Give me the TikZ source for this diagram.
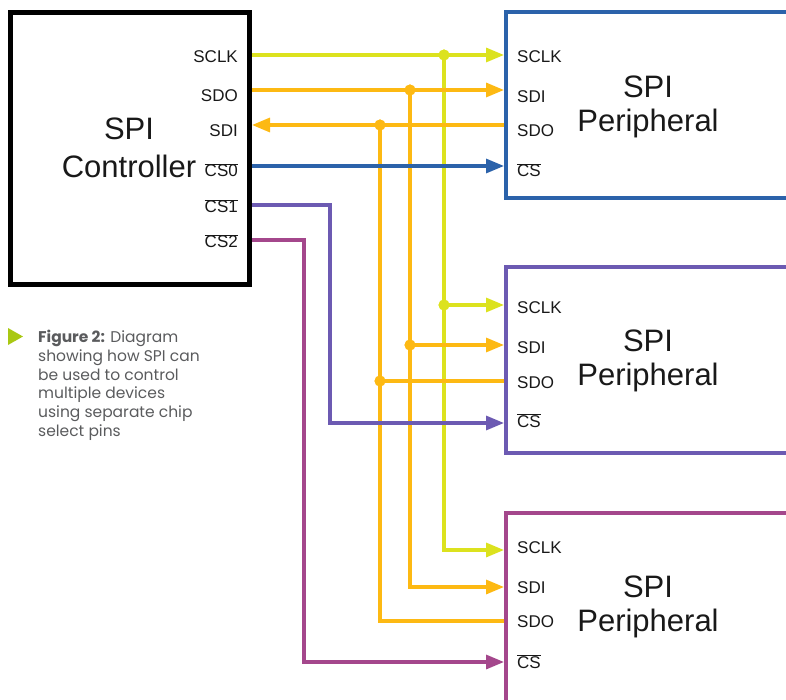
\documentclass[tikz,border=0pt]{standalone}
\usepackage{fontspec}
\setmainfont{Liberation Sans}
\newfontfamily\capfont{Poppins}
\usepackage{xcolor}
\usepackage{tikz}
\usetikzlibrary{arrows.meta, positioning, calc}

\definecolor{sclkcol}{HTML}{DCE21E}
\definecolor{datacol}{HTML}{FDB913}
\definecolor{p1col}{HTML}{2B62AA}
\definecolor{p2col}{HTML}{6C5AB2}
\definecolor{p3col}{HTML}{A4478C}
\definecolor{capgreen}{HTML}{A9C813}
\definecolor{capgray}{HTML}{5A5B5D}

\begin{document}
\begin{tikzpicture}[x=1pt, y=-1pt,
  chip/.style={draw, line width=4pt, anchor=north west, inner sep=0pt},
  pin/.style={font=\fontsize{17}{19}\selectfont, text=black!90, inner sep=0pt},
  big/.style={font=\fontsize{31}{36}\selectfont, text=black!90, align=center, inner sep=0pt},
  wire/.style={line width=3.2pt},
  arr/.style={-{Triangle[length=18pt, width=14pt]}},
  dot/.style={circle, inner sep=0pt, minimum size=11pt}
]
  \useasboundingbox (0,0) rectangle (786,700);
  \clip (0,0) rectangle (786,700);

  % Controller
  \node[chip, line width=5pt, minimum width=239pt, minimum height=272pt] (ctrl) at (8,10) {};
  \node[big, font=\fontsize{31}{38}\selectfont] (ctrl-name) at (129,148) {SPI\\Controller};
  \node[pin, anchor=base east] (l-sclk) at (238,63) {SCLK};
  \node[pin, anchor=base east] (l-sdo) at (238,102) {SDO};
  \node[pin, anchor=base east] (l-sdi) at (238,137) {SDI};
  \node[pin, anchor=base east] (l-cs0) at (238,177) {$\overline{\hbox{CS0}}$};
  \node[pin, anchor=base east] (l-cs1) at (238,213) {$\overline{\hbox{CS1}}$};
  \node[pin, anchor=base east] (l-cs2) at (238,248) {$\overline{\hbox{CS2}}$};

  % Peripherals
  \node[chip, draw=p1col, minimum width=320pt, minimum height=186pt] (p1) at (504,10) {};
  \node[chip, draw=p2col, minimum width=320pt, minimum height=186pt] (p2) at (504,265) {};
  \node[chip, draw=p3col, minimum width=320pt, minimum height=250pt] (p3) at (504,511) {};
  \node[big, font=\fontsize{31}{34}\selectfont] (p1-name) at (648,107) {SPI\\Peripheral};
  \node[big, font=\fontsize{31}{34}\selectfont] (p2-name) at (648,361) {SPI\\Peripheral};
  \node[big, font=\fontsize{31}{34}\selectfont] (p3-name) at (648,607) {SPI\\Peripheral};

  \node[pin, anchor=base west] (p1-l-sclk) at (517,63) {SCLK};
  \node[pin, anchor=base west] (p1-l-sdi) at (517,103) {SDI};
  \node[pin, anchor=base west] (p1-l-sdo) at (517,137) {SDO};
  \node[pin, anchor=base west] (p1-l-cs) at (517,177) {$\overline{\hbox{CS}}$};
  \node[pin, anchor=base west] (p2-l-sclk) at (517,313) {SCLK};
  \node[pin, anchor=base west] (p2-l-sdi) at (517,353) {SDI};
  \node[pin, anchor=base west] (p2-l-sdo) at (517,388) {SDO};
  \node[pin, anchor=base west] (p2-l-cs) at (517,427) {$\overline{\hbox{CS}}$};
  \node[pin, anchor=base west] (p3-l-sclk) at (517,553) {SCLK};
  \node[pin, anchor=base west] (p3-l-sdi) at (517,593) {SDI};
  \node[pin, anchor=base west] (p3-l-sdo) at (517,627) {SDO};
  \node[pin, anchor=base west] (p3-l-cs) at (517,668) {$\overline{\hbox{CS}}$};

  % Pin points
  \coordinate (c-sclk) at (ctrl.east |- 0,55);
  \coordinate (c-sdo) at (ctrl.east |- 0,90);
  \coordinate (c-sdi) at (ctrl.east |- 0,125);
  \coordinate (c-cs0) at (ctrl.east |- 0,166);
  \coordinate (c-cs1) at (ctrl.east |- 0,205);
  \coordinate (c-cs2) at (ctrl.east |- 0,240);
  \coordinate (p1-sclk) at (p1.west |- 0,55);
  \coordinate (p1-sdi) at (p1.west |- 0,90);
  \coordinate (p1-sdo) at (p1.west |- 0,125);
  \coordinate (p1-cs) at (p1.west |- 0,166);
  \coordinate (p2-sclk) at (p2.west |- 0,305);
  \coordinate (p2-sdi) at (p2.west |- 0,345);
  \coordinate (p2-sdo) at (p2.west |- 0,381);
  \coordinate (p2-cs) at (p2.west |- 0,423);
  \coordinate (p3-sclk) at (p3.west |- 0,550);
  \coordinate (p3-sdi) at (p3.west |- 0,587);
  \coordinate (p3-sdo) at (p3.west |- 0,621);
  \coordinate (p3-cs) at (p3.west |- 0,662);

  % Junctions
  \node[dot, fill=sclkcol] (j-sclk1) at (444,55) {};
  \node[dot, fill=sclkcol] (j-sclk2) at (444,305) {};
  \node[dot, fill=datacol] (j-sdo1) at (410,90) {};
  \node[dot, fill=datacol] (j-sdo2) at (410,345) {};
  \node[dot, fill=datacol] (j-sdi1) at (380,125) {};
  \node[dot, fill=datacol] (j-sdi2) at (380,381) {};
  \coordinate (bend1) at (330,205);
  \coordinate (bend2) at (304,240);

  % Shared buses
  \draw[wire, sclkcol, arr] (j-sclk1.center) |- (p3-sclk);
  \draw[wire, datacol, arr] (j-sdo1.center) |- (p3-sdi);
  \draw[wire, datacol] (p3-sdo) -| (j-sdi1.center);
  \draw[wire, p3col, arr] (c-cs2) -- (bend2) |- (p3-cs);

  % Top peripheral
  \draw[wire, sclkcol, arr] (c-sclk) -- (p1-sclk);
  \draw[wire, datacol, arr] (c-sdo) -- (p1-sdi);
  \draw[wire, datacol, arr] (p1-sdo) -- (c-sdi);
  \draw[wire, p1col, arr] (c-cs0) -- (p1-cs);

  % Middle peripheral
  \draw[wire, sclkcol, arr] (j-sclk2.center) -- (p2-sclk);
  \draw[wire, datacol, arr] (j-sdo2.center) -- (p2-sdi);
  \draw[wire, datacol] (p2-sdo) -- (j-sdi2.center);
  \draw[wire, p2col, arr] (c-cs1) -- (bend1) |- (p2-cs);

  % Dots on top
  \foreach \j/\c in {j-sclk1/sclkcol, j-sclk2/sclkcol, j-sdo1/datacol, j-sdo2/datacol, j-sdi1/datacol, j-sdi2/datacol}
    \fill[\c] (\j) circle (5.5pt);

  % Caption
  \fill[capgreen] (8,328) -- (23,336.5) -- (8,345) -- cycle;
  \node[anchor=north west, inner sep=0pt, align=left, text=capgray,
        font=\capfont\fontsize{15.5}{18.7}\selectfont] (caption) at (38,330)
    {\textbf{Figure 2:} Diagram\\showing how SPI can\\be used to control\\multiple devices\\using separate chip\\select pins};
\end{tikzpicture}
\end{document}
